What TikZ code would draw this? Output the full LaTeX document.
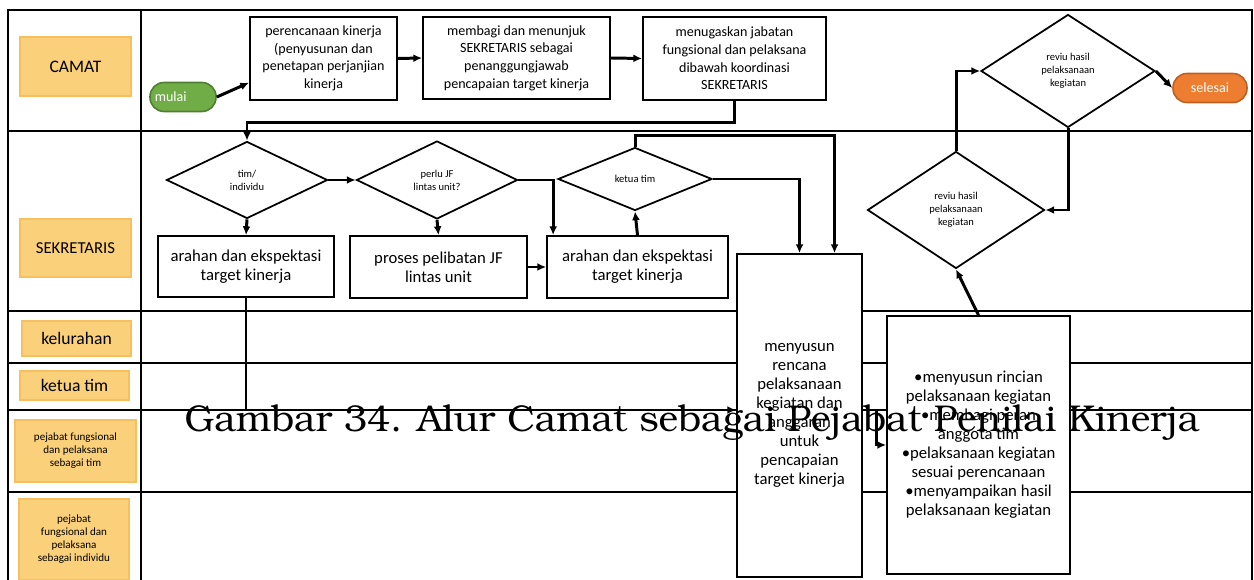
\documentclass[tikz,border=0pt]{standalone}
\usepackage[T1,TU]{fontenc}
\usepackage{fontspec}
\setmainfont{Carlito}
\usepackage{graphicx}
\usetikzlibrary{arrows.meta,positioning,shapes.geometric,calc}
\definecolor{lanefill}{RGB}{250,208,122}
\definecolor{laneedge}{RGB}{246,192,96}
\definecolor{startgreen}{RGB}{112,173,71}
\definecolor{startedge}{RGB}{80,126,50}
\definecolor{endorange}{RGB}{237,125,49}
\definecolor{endedge}{RGB}{190,95,35}
\newcommand{\capfont}{\fontencoding{T1}\fontfamily{pbk}\selectfont}

\begin{document}
\begin{tikzpicture}[x=0.02cm, y=-0.02cm, >=Latex, every node/.style={align=center},
    box/.style={draw, line width=1pt, fill=white, inner sep=1pt, font=\fontsize{8}{10}\selectfont},
    dec/.style={diamond, draw, line width=1pt, fill=white, inner sep=0pt, font=\fontsize{6}{7.4}\selectfont},
    lane/.style={draw=laneedge, fill=lanefill, line width=0.6pt, inner sep=1pt},
    term/.style={rounded corners=0.28cm, line width=0.9pt, text=white, minimum height=0.58cm, font=\fontsize{8}{9}\selectfont},
    flow/.style={-{Latex[length=5pt,width=4.5pt]}, line width=1.7pt},
    grid/.style={line width=1.1pt}]
  \useasboundingbox (0,0) rectangle (1254,580);

  % swimlanes
  \draw[grid] (8,580) -- (8,10) -- (1252,10) -- (1252,580);
  \draw[grid] (141,10) -- (141,580);
  \foreach \yy in {131,311,363,410,492}
    \draw[grid] (8,\yy) -- (1252,\yy);

  \node[lane, minimum width=2.22cm, minimum height=1.18cm, font=\fontsize{10}{12}\selectfont] (lCamat) at (75.5,66.5) {CAMAT};
  \node[lane, minimum width=2.22cm, minimum height=1.16cm, font=\fontsize{9.5}{12}\selectfont] (lSekr) at (75.5,248) {SEKRETARIS};
  \node[lane, minimum width=2.18cm, minimum height=0.70cm, font=\fontsize{10}{12}\selectfont] (lKel) at (76.5,338.5) {kelurahan};
  \node[lane, minimum width=2.18cm, minimum height=0.58cm, font=\fontsize{10}{12}\selectfont] (lKetua) at (74.5,385.5) {ketua tim};
  \node[lane, minimum width=2.42cm, minimum height=1.24cm, font=\fontsize{6.3}{7.4}\selectfont] (lTim) at (75.5,451)
    {pejabat fungsional\\dan pelaksana\\sebagai tim};
  \node[lane, minimum width=2.20cm, minimum height=1.62cm, font=\fontsize{6.3}{7.4}\selectfont] (lIndiv) at (74,539.5)
    {pejabat\\fungsional dan\\pelaksana\\sebagai individu};

  % CAMAT
  \node[term, fill=startgreen, draw=startedge, minimum width=1.32cm] (mulai) at (183,97) {\hspace*{-14pt}mulai};
  \node[box, minimum width=2.94cm, minimum height=1.66cm] (perenc) at (323.5,58.5)
    {perencanaan kinerja\\(penyusunan dan\\penetapan perjanjian\\kinerja};
  \node[box, minimum width=3.74cm, minimum height=1.64cm] (membagi) at (516.5,58)
    {membagi dan menunjuk\\SEKRETARIS sebagai\\penanggungjawab\\pencapaian target kinerja};
  \node[box, minimum width=3.66cm, minimum height=1.66cm] (menugas) at (734.5,58.5)
    {menugaskan jabatan\\fungsional dan pelaksana\\dibawah koordinasi\\SEKRETARIS};
  \node[dec, minimum width=3.48cm, minimum height=2.26cm] (revTop) at (1068,71)
    {reviu hasil\\pelaksanaan\\kegiatan};
  \node[term, fill=endorange, draw=endedge, minimum width=1.48cm] (selesai) at (1210,88) {selesai};

  % SEKRETARIS
  \node[dec, minimum width=3.22cm, minimum height=1.54cm] (dTim) at (247,180) {tim/\\individu};
  \node[dec, minimum width=3.22cm, minimum height=1.56cm] (dJF) at (437,180) {perlu JF\\lintas unit?};
  \node[dec, minimum width=3.08cm, minimum height=1.26cm] (dKetua) at (635,179) {ketua tim};
  \node[box, minimum width=3.52cm, minimum height=1.22cm, font=\fontsize{9.5}{10.8}\selectfont] (arahan1) at (246,266.5)
    {arahan dan ekspektasi\\target kinerja};
  \node[box, minimum width=3.54cm, minimum height=1.24cm, font=\fontsize{9.5}{10.8}\selectfont] (proses) at (438.5,267)
    {proses pelibatan JF\\lintas unit};
  \node[box, minimum width=3.62cm, minimum height=1.24cm, font=\fontsize{9.5}{10.8}\selectfont] (arahan2) at (637.5,267)
    {arahan dan ekspektasi\\target kinerja};
  \node[dec, minimum width=3.54cm, minimum height=2.34cm] (revLow) at (956,210)
    {reviu hasil\\pelaksanaan\\kegiatan};

  % pelaksanaan
  \node[box, minimum width=2.50cm, minimum height=6.46cm, font=\fontsize{9.5}{10.8}\selectfont] (menyusun) at (799.5,415.5)
    {menyusun\\rencana\\pelaksanaan\\kegiatan dan\\anggaran\\untuk\\pencapaian\\target kinerja};
  \node[box, minimum width=3.66cm, minimum height=5.16cm, font=\fontsize{9.5}{10.8}\selectfont] (bullets) at (978.5,445)
    {\textbullet menyusun rincian\\pelaksanaan kegiatan\\\textbullet membagi peran\\anggota tim\\\textbullet pelaksanaan kegiatan\\sesuai perencanaan\\\textbullet menyampaikan hasil\\pelaksanaan kegiatan};

  % alur
  \draw[flow] (mulai.east) -- (perenc.198);
  \draw[flow] (perenc.east) -- (membagi.west);
  \draw[flow] (membagi.east) -- (menugas.west);
  \draw[flow] (menugas.south) -- ++(0,22) -| (dTim.north);
  \draw[flow] (dTim.east) -- (dJF.west);
  \draw[flow] (dTim.south) -- (arahan1.north);
  \draw[flow] (dJF.south) -- (proses.north);
  \draw[flow] (dJF.east) -| ($(arahan2.north west)+(7,0)$);
  \draw[flow] (proses.east) -- (arahan2.west);
  \draw[flow] (arahan2.north) -- (dKetua.south);
  \draw[flow] (dKetua.east) -| (menyusun.north);
  \draw[flow] (dKetua.north) -- ++(0,-11) -| ($(menyusun.north)+(35,0)$);
  \draw[flow] (arahan1.south) |- ($(menyusun.west)+(0,-5.5)$);
  \draw[flow] ($(menyusun.east)+(0,-5.5)$) -- ++(14,0) |- (bullets.west);
  \draw[flow] (bullets.north) -- (revLow.south);
  \draw[flow] (revLow.north) |- (revTop.west);
  \draw[flow] (revTop.south) |- (revLow.east);
  \draw[flow] (revTop.east) -- (selesai.west);

  \node (caption) at (692,423)
    {\resizebox{20.3cm}{!}{\capfont Gambar 34. Alur Camat sebagai Pejabat Penilai Kinerja}};
\end{tikzpicture}
\end{document}
